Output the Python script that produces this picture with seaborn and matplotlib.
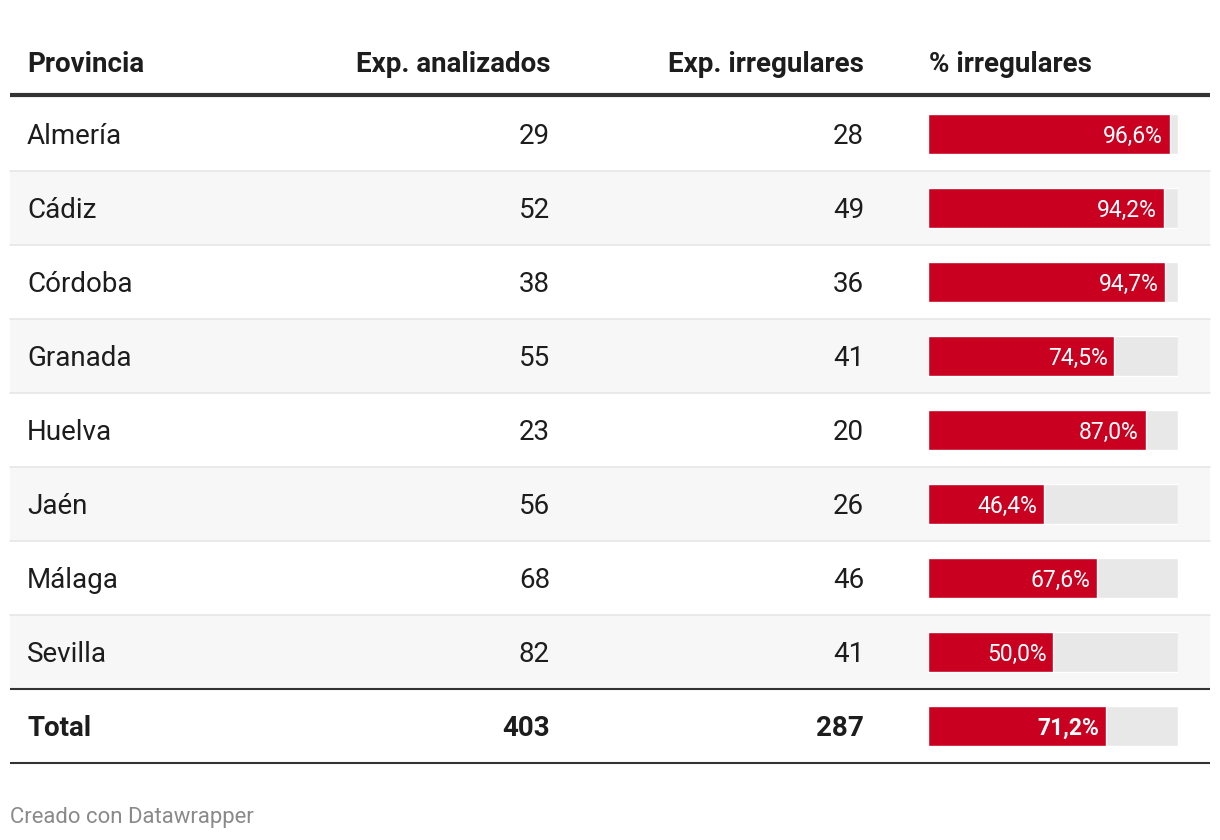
import numpy as np
import pandas as pd
import seaborn as sns
import matplotlib.pyplot as plt

# ----------------------------
# Data
# ----------------------------
provincias = ["Almería", "Cádiz", "Córdoba", "Granada", "Huelva",
              "Jaén", "Málaga", "Sevilla", "Total"]
analizados = [29, 52, 38, 55, 23, 56, 68, 82, 403]
irregulares = [28, 49, 36, 41, 20, 26, 46, 41, 287]
pct_irregulares = [96.6, 94.2, 94.7, 74.5, 87.0, 46.4, 67.6, 50.0, 71.2]
headers = ["Provincia", "Exp. analizados", "Exp. irregulares", "% irregulares"]
footer = "Creado con Datawrapper"

df = pd.DataFrame({
    "provincia": provincias,
    "analizados": analizados,
    "irregulares": irregulares,
    "pct": pct_irregulares,
})
df["fondo"] = 100

# ----------------------------
# Style
# ----------------------------
sns.set_theme(style="white")
plt.rcParams["font.family"] = ["Roboto", "DejaVu Sans"]

RED = "#c9001f"
TEXT = "#1d1d1d"
W, H = 1220, 840
ROW_H = 74
TOP = 97
n = len(df)

fig = plt.figure(figsize=(W / 100, H / 100), dpi=100)
ax = fig.add_axes([0, 0, 1, 1])
ax.set_xlim(0, W)
ax.set_ylim(H, 0)
ax.axis("off")

body_fs = 20
head_fs = 20
dy = 2.5  # small nudge so glyphs sit centred like the reference

# header
hy = 62 + dy
ax.text(27, hy, headers[0], ha="left", va="center", fontsize=head_fs,
        fontweight="bold", color=TEXT)
ax.text(550, hy, headers[1], ha="right", va="center", fontsize=head_fs,
        fontweight="bold", color=TEXT)
ax.text(864, hy, headers[2], ha="right", va="center", fontsize=head_fs,
        fontweight="bold", color=TEXT)
ax.text(929, hy, headers[3], ha="left", va="center", fontsize=head_fs,
        fontweight="bold", color=TEXT)

# rows
for i, row in df.iterrows():
    y0 = TOP + i * ROW_H
    yc = y0 + ROW_H / 2 + dy
    is_total = row["provincia"] == "Total"
    if i % 2 == 1 and not is_total:
        ax.axhspan(y0, y0 + ROW_H, xmin=10 / W, xmax=1210 / W,
                   color="#f7f7f7", lw=0, zorder=0)
    if i < n - 2:
        ax.plot([10, 1210], [y0 + ROW_H, y0 + ROW_H], color="#e6e6e6", lw=1.2, zorder=1)
    weight = "bold" if is_total else "normal"
    ax.text(27, yc, row["provincia"], ha="left", va="center",
            fontsize=body_fs, fontweight=weight, color=TEXT)
    ax.text(550, yc, f"{row['analizados']}", ha="right", va="center",
            fontsize=body_fs, fontweight=weight, color=TEXT)
    ax.text(864, yc, f"{row['irregulares']}", ha="right", va="center",
            fontsize=body_fs, fontweight=weight, color=TEXT)

# rules
ax.plot([10, 1210], [95, 95], color="#333333", lw=3, solid_capstyle="butt", zorder=3)
ax.plot([10, 1210], [TOP + (n - 1) * ROW_H, TOP + (n - 1) * ROW_H],
        color="#333333", lw=1.5, solid_capstyle="butt", zorder=3)
ax.plot([10, 1210], [TOP + n * ROW_H, TOP + n * ROW_H],
        color="#333333", lw=1.5, solid_capstyle="butt", zorder=3)

ax.text(10, 816 + 1.5, footer, ha="left", va="center", fontsize=15.9, color="#8a8a8a")

# ----------------------------
# Bars
# ----------------------------
bar_top = TOP
bar_bottom = TOP + n * ROW_H
bax = fig.add_axes([928 / W, (H - bar_bottom) / H, 250 / W, (bar_bottom - bar_top) / H])
bax.patch.set_alpha(0)
sns.barplot(data=df, x="fondo", y="provincia", orient="h", color="#e8e8e8",
            width=40 / ROW_H, ax=bax, saturation=1)
sns.barplot(data=df, x="pct", y="provincia", orient="h", color=RED,
            width=40 / ROW_H, ax=bax, saturation=1)
bax.set_xlim(0, 100)
bax.axis("off")

for i, row in df.iterrows():
    is_total = row["provincia"] == "Total"
    lbl = f"{row['pct']:.1f}%".replace(".", ",")
    bax.text(row["pct"] - 2.6, i + 0.03, lbl, ha="right", va="center", color="white",
             fontsize=16.5, fontweight="bold" if is_total else "normal")

fig.savefig("out.png", dpi=100, facecolor="white")
